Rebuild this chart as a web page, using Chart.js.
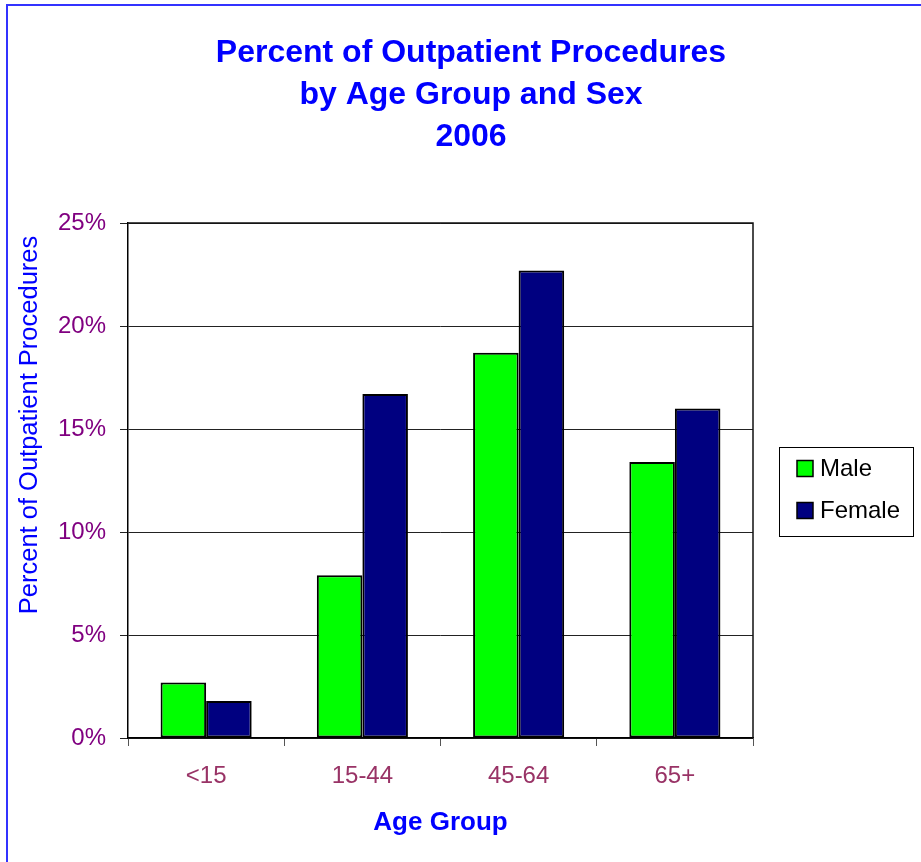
<!DOCTYPE html>
<html>
<head>
<meta charset="utf-8">
<title>Percent of Outpatient Procedures by Age Group and Sex</title>
<script src="https://cdn.jsdelivr.net/npm/chart.js@4/dist/chart.umd.min.js"></script>
<style>
  html, body { margin: 0; padding: 0; background: #fff; }
  #wrap { width: 921px; height: 862px; position: relative; }
</style>
</head>
<body>
<div id="wrap"><canvas id="chart" width="921" height="862"></canvas></div>
<script>
const ageGroups = ["<15", "15-44", "45-64", "65+"];
const maleValues = [2.7, 7.9, 18.7, 13.4];
const femaleValues = [1.8, 16.7, 22.7, 16.0];
const yTicks = [0, 5, 10, 15, 20, 25];
const titleLines = ["Percent of Outpatient Procedures", "by Age Group and Sex", "2006"];
const yTitle = "Percent of Outpatient Procedures";
const xTitle = "Age Group";

const FONT = "'Liberation Sans', Arial, sans-serif";

// titles, legend and frame are drawn by hand to match the Excel layout
const decorations = {
  id: "decorations",
  afterDraw(chart) {
    const ctx = chart.ctx;
    const area = chart.chartArea;
    ctx.save();

    // blue outer frame (left + top visible)
    ctx.strokeStyle = "#3333ff";
    ctx.lineWidth = 2;
    ctx.beginPath();
    ctx.moveTo(7, 900);
    ctx.lineTo(7, 5);
    ctx.lineTo(930, 5);
    ctx.stroke();

    // plot frame
    ctx.strokeStyle = "#111";
    ctx.lineWidth = 1.5;
    ctx.beginPath();
    ctx.moveTo(area.left, area.top);
    ctx.lineTo(area.right, area.top);
    ctx.lineTo(area.right, area.bottom);
    ctx.stroke();

    // main title
    ctx.fillStyle = "#0000ff";
    ctx.font = "bold 32px " + FONT;
    ctx.textAlign = "center";
    ctx.textBaseline = "middle";
    titleLines.forEach((t, i) => ctx.fillText(t, 471, 53 + i * 42));

    // y axis title
    ctx.font = "25.5px " + FONT;
    ctx.translate(30, 425);
    ctx.rotate(-Math.PI / 2);
    ctx.fillText(yTitle, 0, 0);
    ctx.setTransform(1, 0, 0, 1, 0, 0);

    // legend box
    ctx.strokeStyle = "#000";
    ctx.lineWidth = 1;
    ctx.strokeRect(779.5, 447.5, 134, 89);
    ctx.font = "24px " + FONT;
    ctx.textAlign = "left";
    ctx.textBaseline = "middle";
    chart.data.datasets.forEach((ds, i) => {
      const y = 468.5 + i * 42;
      ctx.fillStyle = ds.backgroundColor;
      ctx.fillRect(797, y - 8, 16, 16);
      ctx.lineWidth = 1.5;
      ctx.strokeStyle = "#000";
      ctx.strokeRect(797, y - 8, 16, 16);
      ctx.fillStyle = "#000";
      ctx.fillText(ds.label, 820, y + 1);
    });
    ctx.restore();
  }
};

new Chart(document.getElementById("chart"), {
  type: "bar",
  data: {
    labels: ageGroups,
    datasets: [
      {
        label: "Male",
        data: maleValues,
        backgroundColor: "#00ff00",
        borderColor: "#000",
        borderWidth: 2,
        borderSkipped: false
      },
      {
        label: "Female",
        data: femaleValues,
        backgroundColor: "#000080",
        borderColor: "#000",
        borderWidth: 2,
        borderSkipped: false
      }
    ]
  },
  options: {
    responsive: false,
    animation: false,
    layout: { padding: { left: 8, top: 223, right: 168, bottom: 20 } },
    datasets: { bar: { categoryPercentage: 0.583, barPercentage: 1 } },
    plugins: {
      legend: { display: false },
      title: { display: false },
      tooltip: { enabled: false }
    },
    scales: {
      x: {
        afterFit: s => { s.height = 104; },
        grid: { offset: true, drawOnChartArea: false, drawTicks: true, tickLength: 8, color: "#555" },
        border: { color: "#000", width: 1.5 },
        ticks: { color: "#993366", font: { family: FONT, size: 24 }, padding: 16 },
        title: {
          display: true,
          text: xTitle,
          color: "#0000ff",
          font: { family: FONT, size: 26, weight: "bold" },
          padding: { top: 0, bottom: 4 }
        }
      },
      y: {
        min: 0,
        max: 25,
        afterFit: s => { s.width = 120; },
        afterBuildTicks: s => { s.ticks = yTicks.map(v => ({ value: v })); },
        grid: { color: "#222", lineWidth: 1, drawTicks: true, tickLength: 8 },
        border: { color: "#000", width: 1.5 },
        ticks: {
          color: "#800080",
          font: { family: FONT, size: 24 },
          padding: 14,
          callback: v => v + "%"
        }
      }
    }
  },
  plugins: [decorations]
});
</script>
</body>
</html>
